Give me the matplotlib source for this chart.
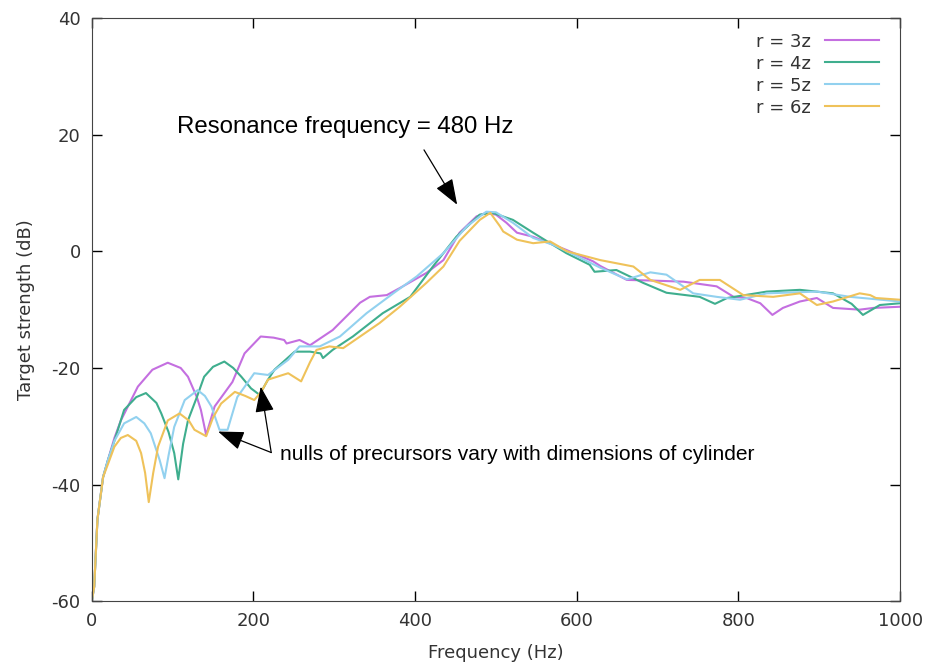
import matplotlib.pyplot as plt

plt.rcParams['axes.unicode_minus'] = False

# frequency (Hz) / target strength (dB)
f_r3 = [0, 3, 7, 14, 20, 28, 36, 57, 75, 94, 110, 119, 130, 135, 141.5, 152, 163, 174, 189,
        209, 225, 238, 241, 257, 270, 298, 332, 344, 365, 381, 414, 435, 455, 476, 488, 500,
        513, 526, 546, 587, 620, 629, 662, 691, 732, 773, 794, 810, 827, 842, 855, 876, 897,
        917, 950, 967, 1000]
ts_r3 = [-60, -57.5, -46, -38.7, -35.8, -32, -29, -23.2, -20.3, -19.1, -20, -21.5, -25, -27.2,
         -31.5, -26.6, -24.5, -22.4, -17.5, -14.6, -14.8, -15.2, -15.8, -15.2, -16.1, -13.5,
         -8.8, -7.8, -7.5, -6.3, -3.7, -1.5, 3.2, 6.0, 6.6, 6.3, 4.9, 3.2, 2.5, 0.25, -1.7,
         -2.5, -4.9, -5.0, -5.2, -6.0, -7.8, -8.0, -8.9, -10.9, -9.7, -8.6, -8.0, -9.7, -10.0,
         -9.7, -9.5]

f_r4 = [0, 3, 7, 14, 20, 28, 40, 55, 67, 80, 86, 95, 102, 107, 113, 119, 130, 139, 150, 164,
        175, 185, 197, 207.5, 218, 226, 251, 270, 283, 286, 298, 323, 360, 394, 422, 451, 480,
        496, 521, 546, 587, 616, 622, 649, 682, 711, 752, 771, 786, 835, 876, 917, 940, 954,
        975, 1000]
ts_r4 = [-60, -57.5, -46, -38.7, -35.8, -32.5, -27.2, -25, -24.3, -26, -27.8, -31, -34.6, -39.1,
         -33, -29, -25, -21.5, -19.8, -18.9, -20, -21.5, -23.5, -24.6, -22, -20.3, -17.2, -17.2,
         -17.5, -18.3, -16.9, -14.6, -10.6, -7.8, -2.6, 2.5, 6.3, 6.6, 5.4, 3.2, -0.3, -2.3,
         -3.5, -3.2, -5.4, -7.1, -7.8, -9.0, -8.0, -6.9, -6.6, -7.2, -9.0, -10.9, -9.2, -8.9]

f_r5 = [0, 3, 7, 14, 20, 28, 40, 55, 65, 73, 84, 90, 95, 102, 115, 131, 140, 148, 158, 168,
        180, 201, 218, 243, 257, 282, 307, 340, 373, 402, 435, 464, 488, 500, 521, 546, 571,
        588, 629, 662, 691, 711, 744, 773, 802, 835, 897, 938, 1000]
ts_r5 = [-60, -57.5, -46, -38.7, -35.8, -32.5, -29.5, -28.4, -29.5, -31.2, -35.8, -38.9, -35,
         -30.1, -25.5, -23.8, -24.8, -26.6, -30.6, -30.6, -25, -20.9, -21.2, -18.6, -16.3,
         -16.3, -14.6, -10.6, -7.2, -4.3, -0.3, 4.3, 6.8, 6.7, 4.9, 2.3, 1.1, 0, -2.8, -4.8,
         -3.6, -4.0, -7.2, -7.8, -8.3, -7.2, -6.9, -7.8, -8.6]

f_r6 = [0, 3, 7, 14, 20, 28, 36, 44.6, 55, 61, 66, 70.5, 76, 82, 94, 108.5, 120, 127, 141.5,
        150, 160, 177, 190, 201, 210, 218, 243, 259, 270, 278, 294, 311, 356, 381, 414, 435,
        455, 480, 493, 505, 509, 526, 546, 567, 588, 629, 670, 691, 728, 752, 777, 806, 843,
        876, 897, 917, 950, 963, 970, 1000]
ts_r6 = [-60, -57.5, -46, -38.7, -36.5, -33.5, -32, -31.5, -32.5, -34.6, -38, -43, -38, -33.5,
         -29, -27.8, -29, -30.6, -31.7, -28.5, -26.1, -24.1, -24.8, -25.5, -24, -22, -20.9,
         -22.3, -19, -16.9, -16.3, -16.6, -12.3, -9.5, -5.4, -2.6, 1.8, 5.4, 6.6, 4.3, 3.4,
         2.0, 1.4, 1.7, 0, -1.5, -2.6, -4.9, -6.6, -4.9, -4.9, -7.5, -7.8, -7.2, -9.2, -8.6,
         -7.2, -7.5, -8.0, -8.3]

labels = ['r = 3z', 'r = 4z', 'r = 5z', 'r = 6z']
colors = ['#c46fe0', '#3fae8e', '#92d1ef', '#efc25a']

fig = plt.figure(figsize=(9.27, 6.71), dpi=100)
ax = fig.add_axes([0.099, 0.104, 0.872, 0.869])

series = [(f_r3, ts_r3), (f_r4, ts_r4), (f_r5, ts_r5), (f_r6, ts_r6)]
for (f, ts), lab, c in zip(series, labels, colors):
    ax.plot(f, ts, color=c, lw=1.5, label=lab)

ax.set_xlim(0, 1000)
ax.set_ylim(-60, 40)
ax.set_xticks(range(0, 1001, 200))
ax.set_yticks(range(-60, 41, 20))
ax.tick_params(direction='in', length=7, width=1, top=True, right=True,
               labelsize=13, labelcolor='#333333', pad=8)
for s in ax.spines.values():
    s.set_color('#444444')
ax.set_xlabel('Frequency (Hz)', fontsize=13, color='#333333', labelpad=10)
ax.set_ylabel('Target strength (dB)', fontsize=13, color='#333333', labelpad=12)

ax.legend(loc='upper right', frameon=False, markerfirst=False, handlelength=3,
          fontsize=13, labelspacing=0.22, labelcolor='#333333',
          bbox_to_anchor=(0.994, 1.003))

aprops = dict(arrowstyle='-|>,head_length=1.0,head_width=0.37', mutation_scale=16,
              lw=0.9, color='black', shrinkA=0, shrinkB=0)
ax.text(106, 21.4, 'Resonance frequency = 480 Hz', fontsize=17.3,
        family='Liberation Sans', va='center')
ax.annotate('', xy=(452, 8.0), xytext=(411, 17.4), arrowprops=aprops)

ax.text(233, -34.8, 'nulls of precursors vary with dimensions of cylinder', fontsize=15.1,
        family='Liberation Sans', va='center')
ax.annotate('', xy=(156.3, -30.9), xytext=(222, -34.5), arrowprops=aprops)
ax.annotate('', xy=(209, -23.2), xytext=(222, -34.5), arrowprops=aprops)

fig.savefig('out.png', dpi=100)
